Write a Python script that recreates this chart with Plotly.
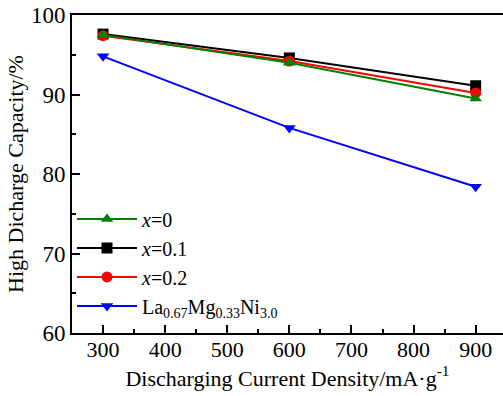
import plotly.graph_objects as go

current = [300, 600, 900]
cap_x0 = [97.5, 94.0, 89.5]
cap_x01 = [97.6, 94.6, 91.1]
cap_x02 = [97.4, 94.2, 90.2]
cap_la = [94.8, 85.8, 78.4]

names = ["<i>x</i>=0", "<i>x</i>=0.1", "<i>x</i>=0.2",
         "La<sub>0.67</sub>Mg<sub>0.33</sub>Ni<sub>3.0</sub>"]

fig = go.Figure()
series = [
    (cap_la, names[3], "#0000FF", "triangle-down", 4),
    (cap_x01, names[1], "#000000", "square", 2),
    (cap_x02, names[2], "#FF0000", "circle", 3),
    (cap_x0, names[0], "#008000", "triangle-up", 1),
]
for y, name, color, sym, rank in series:
    fig.add_trace(go.Scatter(
        x=current, y=y, name=name, mode="lines+markers",
        line=dict(color=color, width=2),
        marker=dict(symbol=sym, size=11, color=color),
        legendrank=rank,
    ))

font = "Liberation Serif"
fig.update_layout(
    width=503, height=396,
    margin=dict(l=72, r=0, t=15, b=63),
    plot_bgcolor="white", paper_bgcolor="white",
    font=dict(family=font, size=22, color="black"),
    showlegend=True,
    legend=dict(x=0.0, y=0.42, xanchor="left", yanchor="top",
                bgcolor="rgba(0,0,0,0)", font=dict(family=font, size=20),
                tracegroupgap=0, itemwidth=60),
    xaxis=dict(range=[250, 944], tickvals=[300, 400, 500, 600, 700, 800, 900],
               ticks="inside", ticklen=8, tickwidth=1.5, tickcolor="black",
               ticklabelstandoff=-4,
               minor=dict(dtick=50, ticks="inside", ticklen=4, tickwidth=1.5, tickcolor="black"),
               showline=True, linecolor="black", linewidth=2, mirror=True,
               showgrid=False, zeroline=False,
               tickfont=dict(family=font, size=22),
               title=dict(text="Discharging Current Density/mA·g<sup>-1</sup>",
                          font=dict(family=font, size=22), standoff=0)),
    yaxis=dict(range=[60, 100], tickvals=[60, 70, 80, 90, 100],
               ticks="inside", ticklen=8, tickwidth=1.5, tickcolor="black",
               minor=dict(dtick=5, ticks="inside", ticklen=4, tickwidth=1.5, tickcolor="black"),
               showline=True, linecolor="black", linewidth=2,
               showgrid=False, zeroline=False,
               tickfont=dict(family=font, size=23),
               title=dict(text="High Dicharge Capacity/%", font=dict(family=font, size=22), standoff=1)),
)
fig.write_html("out.html")
